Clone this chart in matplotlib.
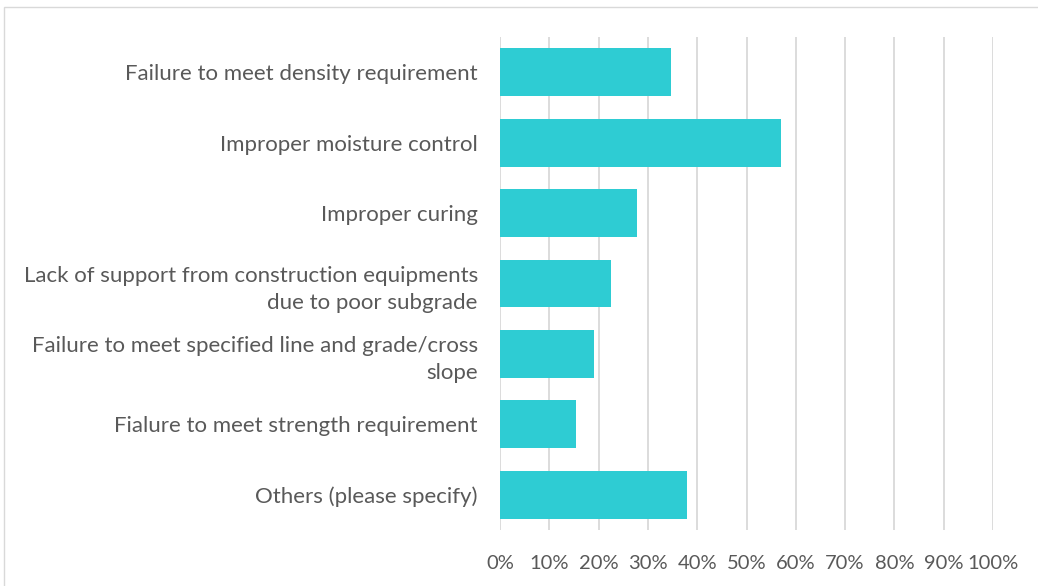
import matplotlib
matplotlib.use("Agg")
import matplotlib.pyplot as plt
from matplotlib.patches import Rectangle
from matplotlib.ticker import FuncFormatter

categories = [
    "Failure to meet density requirement",
    "Improper moisture control",
    "Improper curing",
    "Lack of support from construction equipments\ndue to poor subgrade",
    "Failure to meet specified line and grade/cross\nslope",
    "Fialure to meet strength requirement",
    "Others (please specify)",
]
values = [34.6, 56.9, 27.7, 22.5, 19.0, 15.5, 38.0]
ticks = list(range(0, 101, 10))

bar_color = "#2ECCD3"
text_color = "#595959"
grid_color = "#D9D9D9"

plt.rcParams["font.family"] = ["Lato", "DejaVu Sans"]

W, H = 1038, 586
fig = plt.figure(figsize=(W / 100, H / 100), dpi=100)
ax = fig.add_axes([500 / W, 1 - 530 / H, 493 / W, 493 / H])

pos = list(range(len(categories)))
ax.barh(pos, values, height=0.68, color=bar_color, zorder=3)
ax.set_ylim(len(categories) - 0.5, -0.5)
ax.set_xlim(0, 100)

ax.set_yticks(pos)
ax.set_yticklabels(categories, fontsize=16, color=text_color, linespacing=1.45)
ax.set_xticks(ticks)
ax.xaxis.set_major_formatter(FuncFormatter(lambda v, _: f"{v:.0f}%"))
ax.tick_params(axis="x", labelsize=14.5, labelcolor=text_color, length=0, pad=18)
ax.tick_params(axis="y", length=0, pad=16)

ax.grid(axis="x", color=grid_color, linewidth=1.3, zorder=0)
for s in ax.spines.values():
    s.set_visible(False)

# outer chart frame
fig.patches.append(Rectangle((4 / W, -0.1), 1.2, 1 - 7 / H + 0.1,
                             transform=fig.transFigure, fill=False,
                             edgecolor=grid_color, linewidth=1.0))

fig.savefig("out.png", dpi=100)
